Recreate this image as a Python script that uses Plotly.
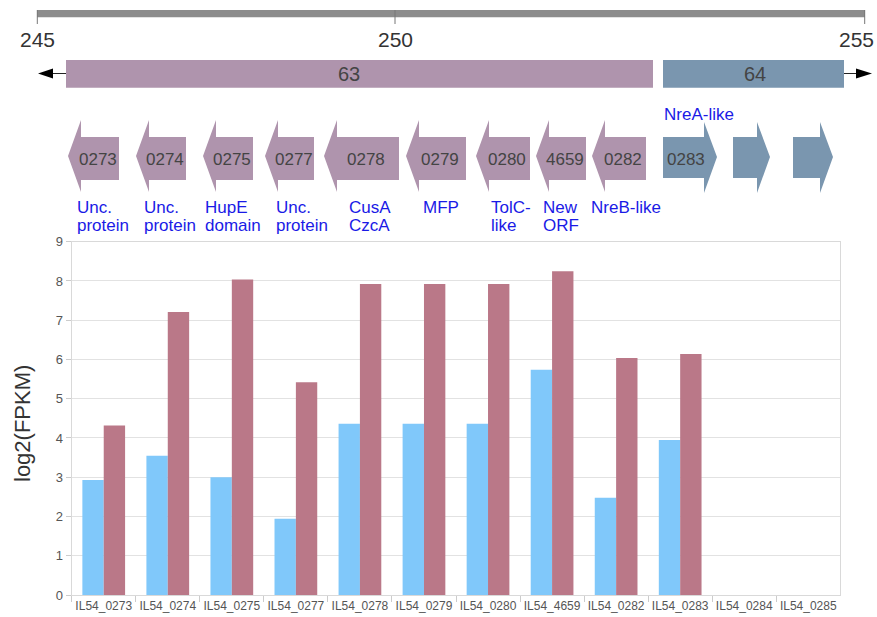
import plotly.graph_objects as go

# ---------------- data ----------------
categories = ["IL54_0273", "IL54_0274", "IL54_0275", "IL54_0277", "IL54_0278", "IL54_0279",
              "IL54_0280", "IL54_4659", "IL54_0282", "IL54_0283", "IL54_0284", "IL54_0285"]
series_a = [2.93, 3.55, 3.00, 1.94, 4.36, 4.36, 4.36, 5.74, 2.48, 3.95, None, None]
series_b = [4.32, 7.21, 8.04, 5.42, 7.92, 7.92, 7.92, 8.25, 6.04, 6.14, None, None]

gene_ids = ["0273", "0274", "0275", "0277", "0278", "0279", "0280", "4659", "0282", "0283", "", ""]
gene_strand = [-1, -1, -1, -1, -1, -1, -1, -1, -1, 1, 1, 1]
gene_operon = ["63"] * 9 + ["64"] * 3
gene_notes = [["Unc.", "protein"], ["Unc.", "protein"], ["HupE", "domain"], ["Unc.", "protein"],
              ["CusA", "CzcA"], ["MFP"], ["TolC-", "like"], ["New", "ORF"], ["NreB-like"],
              ["NreA-like"], [], []]
operons = ["63", "64"]
operon_strand = [-1, 1]
scale_ticks = ["245", "250", "255"]

# ---------------- layout helpers (pixel geometry of the diagram) ----------------
W, H = 877, 617


def px(x):
    return x / W


def py(y):
    return 1 - y / H


PURPLE = "#AF94AD"
SLATE = "#7A96AF"
LABEL_BLUE = "#1a1ae6"
FONT = "Liberation Sans, Arial, sans-serif"

arrow_extent = [(68, 119), (136, 186), (203, 253), (265, 314), (324, 399), (406, 466),
                (476, 530), (536, 586), (592, 646), (663, 717), (733, 770), (793, 833)]
note_left = [75, 142, 203, 274, 347, 421, 489, 541, 589, 662, None, None]
operon_extent = [(66, 653), (663, 844)]
operon_label_x = [349, 755]
scale_x = [37.3, 395, 864.7]
scale_label_x = [37.3, 395, 856]

fig = go.Figure()
fig.add_trace(go.Bar(x=categories, y=series_a, name="A", marker=dict(color="#80C8FA", line=dict(width=0))))
fig.add_trace(go.Bar(x=categories, y=series_b, name="B", marker=dict(color="#BA7888", line=dict(width=0))))

shapes = []
annotations = []

# scale bar
shapes.append(dict(type="rect", xref="paper", yref="paper", x0=px(37), x1=px(865), y0=py(17.3), y1=py(10),
                   fillcolor="#8c8c8c", line=dict(width=0), layer="above"))
for i, t in enumerate(scale_ticks):
    x = scale_x[i]
    shapes.append(dict(type="line", xref="paper", yref="paper", x0=px(x), x1=px(x), y0=py(10), y1=py(24),
                       line=dict(color="#777777", width=1)))
    annotations.append(dict(xref="paper", yref="paper", x=px(scale_label_x[i]), y=py(39.5), text=t,
                            showarrow=False, xanchor="center", yanchor="middle",
                            font=dict(size=21, color="#333333", family=FONT)))

# operon bars
for i, name in enumerate(operons):
    x0, x1 = operon_extent[i]
    col = PURPLE if operon_strand[i] < 0 else SLATE
    shapes.append(dict(type="rect", xref="paper", yref="paper", x0=px(x0), x1=px(x1), y0=py(87.7), y1=py(60),
                       fillcolor=col, line=dict(width=0)))
    annotations.append(dict(xref="paper", yref="paper", x=px(operon_label_x[i]), y=py(73.5), text=name,
                            showarrow=False, xanchor="center", yanchor="middle",
                            font=dict(size=20, color="#444444", family=FONT)))
    if operon_strand[i] < 0:
        shapes.append(dict(type="line", xref="paper", yref="paper", x0=px(x0), x1=px(52), y0=py(73.5), y1=py(73.5),
                           line=dict(color="#222222", width=1)))
        shapes.append(dict(type="path", xref="paper", yref="paper",
                           path=f"M {px(38)} {py(73.5)} L {px(53)} {py(68.5)} L {px(53)} {py(78.5)} Z",
                           fillcolor="black", line=dict(width=0)))
    else:
        shapes.append(dict(type="line", xref="paper", yref="paper", x0=px(x1), x1=px(857), y0=py(73.5), y1=py(73.5),
                           line=dict(color="#222222", width=1)))
        shapes.append(dict(type="path", xref="paper", yref="paper",
                           path=f"M {px(872)} {py(73.5)} L {px(856)} {py(68.5)} L {px(856)} {py(78.5)} Z",
                           fillcolor="black", line=dict(width=0)))

# gene arrows
HEAD = 13
for i, gid in enumerate(gene_ids):
    s, e = arrow_extent[i]
    col = PURPLE if gene_operon[i] == "63" else SLATE
    if gene_strand[i] < 0:
        pts = [(s, 156), (s + HEAD, 120), (s + HEAD, 137), (e, 137), (e, 180), (s + HEAD, 180), (s + HEAD, 192)]
        tx = (s + e) / 2 + 4
    else:
        pts = [(e, 157), (e - HEAD, 122), (e - HEAD, 137), (s, 137), (s, 178), (e - HEAD, 178), (e - HEAD, 193)]
        tx = (s + e) / 2 - 4
    path = "M " + " L ".join(f"{px(x)} {py(y)}" for x, y in pts) + " Z"
    shapes.append(dict(type="path", xref="paper", yref="paper", path=path, fillcolor=col, line=dict(width=0)))
    if gid:
        annotations.append(dict(xref="paper", yref="paper", x=px(tx), y=py(159), text=gid, showarrow=False,
                                xanchor="center", yanchor="middle", font=dict(size=17, color="#444444", family=FONT)))
    notes = gene_notes[i]
    if notes:
        if gene_strand[i] < 0:
            ys = [207, 225]
        else:
            ys = [114.5]
        for j, line in enumerate(notes):
            annotations.append(dict(xref="paper", yref="paper", x=px(note_left[i]), y=py(ys[j]), text=line,
                                    showarrow=False, xanchor="left", yanchor="middle",
                                    font=dict(size=17, color=LABEL_BLUE, family=FONT)))

# y title
annotations.append(dict(xref="paper", yref="paper", x=px(22), y=py(424), text="log2(FPKM)", textangle=-90,
                        showarrow=False, xanchor="center", yanchor="middle",
                        font=dict(size=22, color="#333333", family=FONT)))

fig.update_layout(
    width=W, height=H, autosize=False,
    margin=dict(l=0, r=0, t=0, b=0, pad=0, autoexpand=False),
    paper_bgcolor="white", plot_bgcolor="white",
    barmode="group", bargap=0.333, bargroupgap=0,
    showlegend=False,
    shapes=shapes, annotations=annotations,
    font=dict(family=FONT),
    xaxis=dict(domain=[px(71.7), px(840.3)], type="category", tickson="boundaries", ticks="outside",
               ticklen=6, tickcolor="#cccccc", showline=True, linecolor="#d9d9d9", mirror=True,
               automargin=False,
               showgrid=False, tickfont=dict(size=12, color="#555555", family=FONT), tickangle=0),
    yaxis=dict(domain=[py(595), py(241.7)], range=[0, 9], dtick=1, ticks="outside", ticklen=5,
               tickcolor="#cccccc", showline=True, linecolor="#d9d9d9", mirror=True,
               automargin=False,
               showgrid=True, gridcolor="#e2e2e2", zeroline=False,
               tickfont=dict(size=13, color="#555555", family=FONT)),
)

fig.write_html(
    "out.html",
    config={"displayModeBar": False, "staticPlot": True},
    post_script=(
        "var gd=document.getElementById('{plot_id}');"
        "gd.style.position='absolute';gd.style.top='0px';gd.style.left='0px';"
        "document.body.style.margin='0';document.body.style.padding='0';"
        "document.body.style.overflow='hidden';document.documentElement.style.overflow='hidden';"
    ),
)
